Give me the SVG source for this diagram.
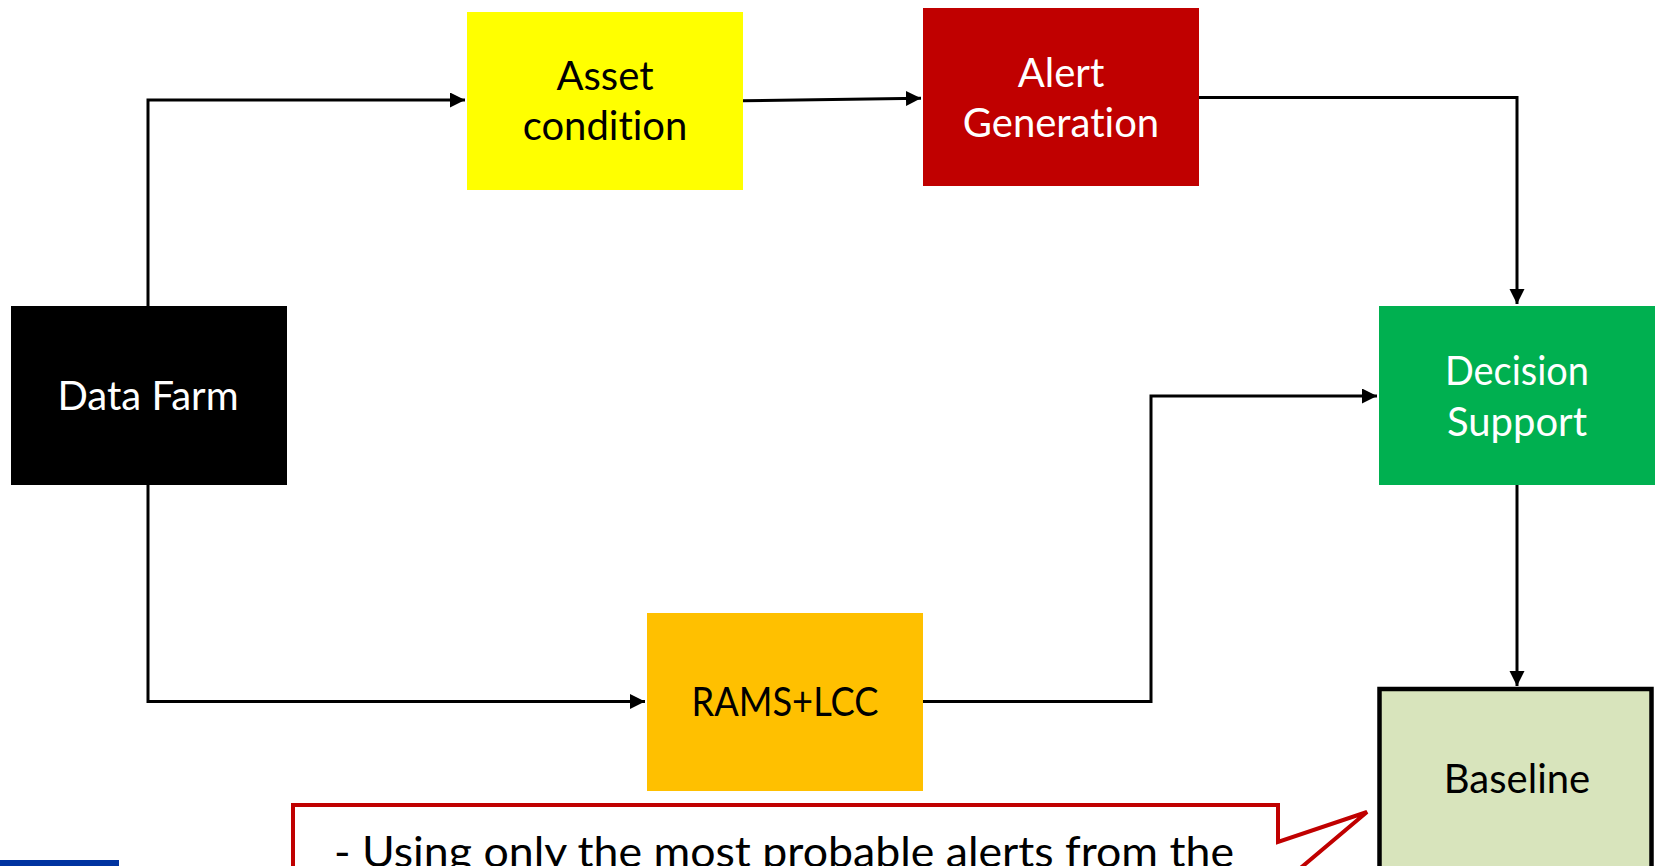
<svg xmlns="http://www.w3.org/2000/svg" width="1656" height="866" viewBox="0 0 1656 866">
<defs>
<style>
.lbl{font-family:Lato,"Liberation Sans",sans-serif;font-size:40px;text-anchor:middle;font-variant-ligatures:none}
.dark{fill:#000000}
.light{fill:#FFFFFF}
.conn{fill:none;stroke:#000000;stroke-width:3;stroke-linejoin:miter}
</style>
<marker id="arrow" markerUnits="userSpaceOnUse" markerWidth="16" markerHeight="16" refX="15" refY="7.5" orient="auto">
<path d="M0,0 L15,7.5 L0,15 Z" fill="#000000"/>
</marker>
</defs>
<rect width="1656" height="866" fill="#FFFFFF"/>
<g id="connectors">
<path class="conn" d="M148,306 V100 H465" marker-end="url(#arrow)"/>
<path class="conn" d="M148,485 V701.5 H645" marker-end="url(#arrow)"/>
<path class="conn" d="M742,100.7 L921,98.3" marker-end="url(#arrow)"/>
<path class="conn" d="M1199,97.5 H1517 V304" marker-end="url(#arrow)"/>
<path class="conn" d="M922,701.5 H1151 V396 H1377" marker-end="url(#arrow)"/>
<path class="conn" d="M1517,485 V686" marker-end="url(#arrow)"/>
</g>
<g id="data-farm">
<rect x="11" y="306" width="276" height="179" fill="#000000"/>
<text class="lbl light" x="148" y="410">Data Farm</text>
</g>
<g id="asset-condition">
<rect x="467" y="12" width="276" height="178" fill="#FFFF00"/>
<text class="lbl dark" x="605" y="90">Asset</text>
<text class="lbl dark" x="605" y="140">condition</text>
</g>
<g id="alert-generation">
<rect x="923" y="8" width="276" height="178" fill="#C00000"/>
<text class="lbl light" x="1061" y="87">Alert</text>
<text class="lbl light" x="1061" y="137">Generation</text>
</g>
<g id="decision-support">
<rect x="1379" y="306" width="276" height="179" fill="#00B050"/>
<text class="lbl light" x="1517" y="385" textLength="144" lengthAdjust="spacingAndGlyphs">Decision</text>
<text class="lbl light" x="1517" y="436">Support</text>
</g>
<g id="rams-lcc">
<rect x="647" y="613" width="276" height="178" fill="#FFC000"/>
<text class="lbl dark" x="785" y="716" textLength="187" lengthAdjust="spacingAndGlyphs">RAMS+LCC</text>
</g>
<g id="baseline">
<rect x="1379.5" y="689" width="272" height="200" fill="#D8E4BC" stroke="#000000" stroke-width="4.5"/>
<text class="lbl dark" x="1517" y="793">Baseline</text>
</g>
<g id="callout">
<path d="M293,900 V805 H1278 V842 L1367,812 L1278,887 V900 Z" fill="#FFFFFF" stroke="#C00000" stroke-width="4" stroke-linejoin="miter"/>
<text class="lbl dark" x="334" y="867" style="text-anchor:start;font-size:43px" textLength="900" lengthAdjust="spacingAndGlyphs">- Using only the most probable alerts from the</text>
</g>
<rect id="corner-bar" x="0" y="860" width="119" height="6" fill="#0033A0"/>
</svg>
